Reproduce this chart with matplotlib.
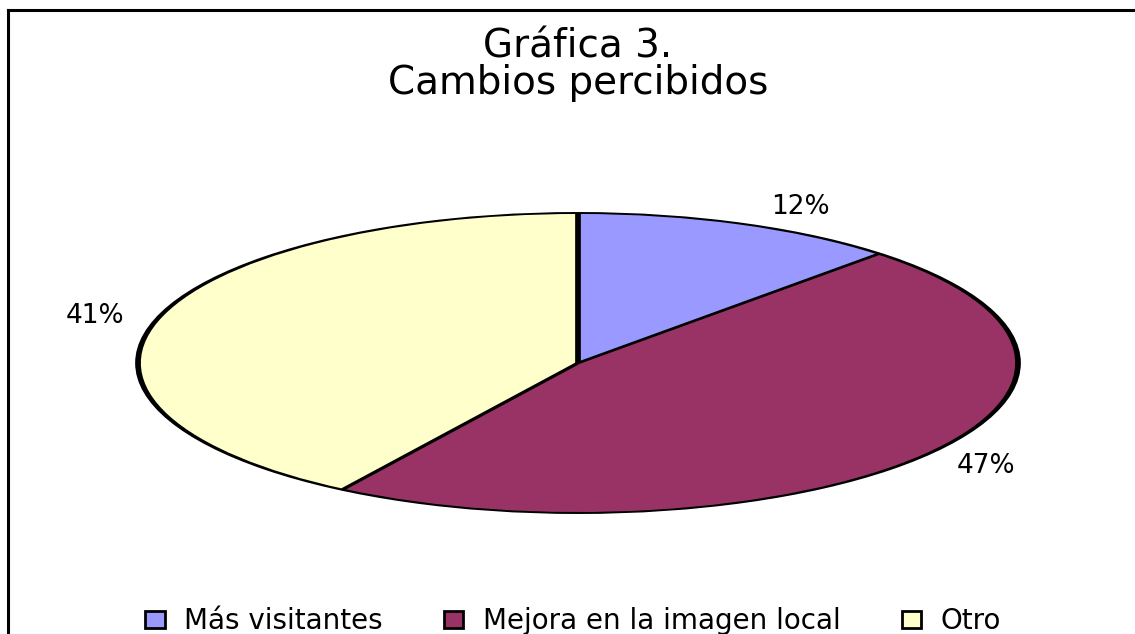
import numpy as np
import matplotlib
matplotlib.use("Agg")
import matplotlib.pyplot as plt
from matplotlib.patches import Ellipse, Patch
from matplotlib.lines import Line2D

# data
categories = ["Más visitantes", "Mejora en la imagen local", "Otro"]
shares = [12, 47, 41]
colors = ["#9999FF", "#993366", "#FFFFCC"]
title = "Gráfica 3.\nCambios percibidos"

W, H, DPI = 1135, 634, 100
fig = plt.figure(figsize=(W / DPI, H / DPI), dpi=DPI)
fig.patch.set_facecolor("white")

# pie is a circle squashed into an ellipse (like the spreadsheet export)
cx, cy = 578, 363      # centre in pixels (y from top)
rx, ry = 440, 150      # half axes in pixels
ax = fig.add_axes([(cx - rx) / W, 1 - (cy + ry) / H, 2 * rx / W, 2 * ry / H])

t = 0.013  # outline thickness in circle units
ax.add_patch(Ellipse((0, 0), 2 + t, 2 + t, facecolor="black", edgecolor="none",
                     zorder=1, clip_on=False))

wedges, texts = ax.pie(
    shares, colors=colors, startangle=90, counterclock=False,
    radius=1 - t / 2, center=(0, 0), frame=True,
    wedgeprops=dict(linewidth=0, edgecolor="none", zorder=2),
)
ax.set_xlim(-1, 1)
ax.set_ylim(-1, 1)
ax.set_aspect("auto")
ax.axis("off")

# separator lines: thickness follows the stretch, so compute it per angle
angles = 90 - 360 * np.cumsum([0] + shares[:-1]) / sum(shares)
for a in angles:
    phi = np.deg2rad(a)
    px = t * rx * ry / np.sqrt((rx * np.cos(phi)) ** 2 + (ry * np.sin(phi)) ** 2)
    ax.plot([0, np.cos(phi)], [0, np.sin(phi)], color="black",
            lw=px * 72 / DPI, solid_capstyle="butt", zorder=3)

# percentage labels, pushed out sideways from the rim
for w, v in zip(wedges, shares):
    mid = np.deg2rad((w.theta1 + w.theta2) / 2)
    c, s = np.cos(mid), np.sin(mid)
    ax.annotate(f"{v}%", xy=(c, s), xytext=(60 * np.sign(c), 18 * s),
                textcoords="offset pixels", ha="center", va="center",
                fontsize=19, annotation_clip=False)

fig.text(cx / W, 1 - 65 / H, title, ha="center", va="center",
         fontsize=28, linespacing=0.95)

handles = [Patch(facecolor=c, edgecolor="black", linewidth=2) for c in colors]
fig.legend(handles, categories, loc="center", bbox_to_anchor=(0.505, 1 - 621 / H),
           ncol=3, frameon=False, fontsize=20, handlelength=0.7, handleheight=0.55,
           handletextpad=0.7, columnspacing=2.2, borderpad=0.1)

# chart border (left and top only visible)
fig.add_artist(Line2D([8 / W, 8 / W], [0, 1 - 10 / H], color="black", lw=2.2,
                      transform=fig.transFigure))
fig.add_artist(Line2D([8 / W, 1], [1 - 10 / H, 1 - 10 / H], color="black", lw=2.2,
                      transform=fig.transFigure))

fig.savefig("out.png", dpi=DPI)
